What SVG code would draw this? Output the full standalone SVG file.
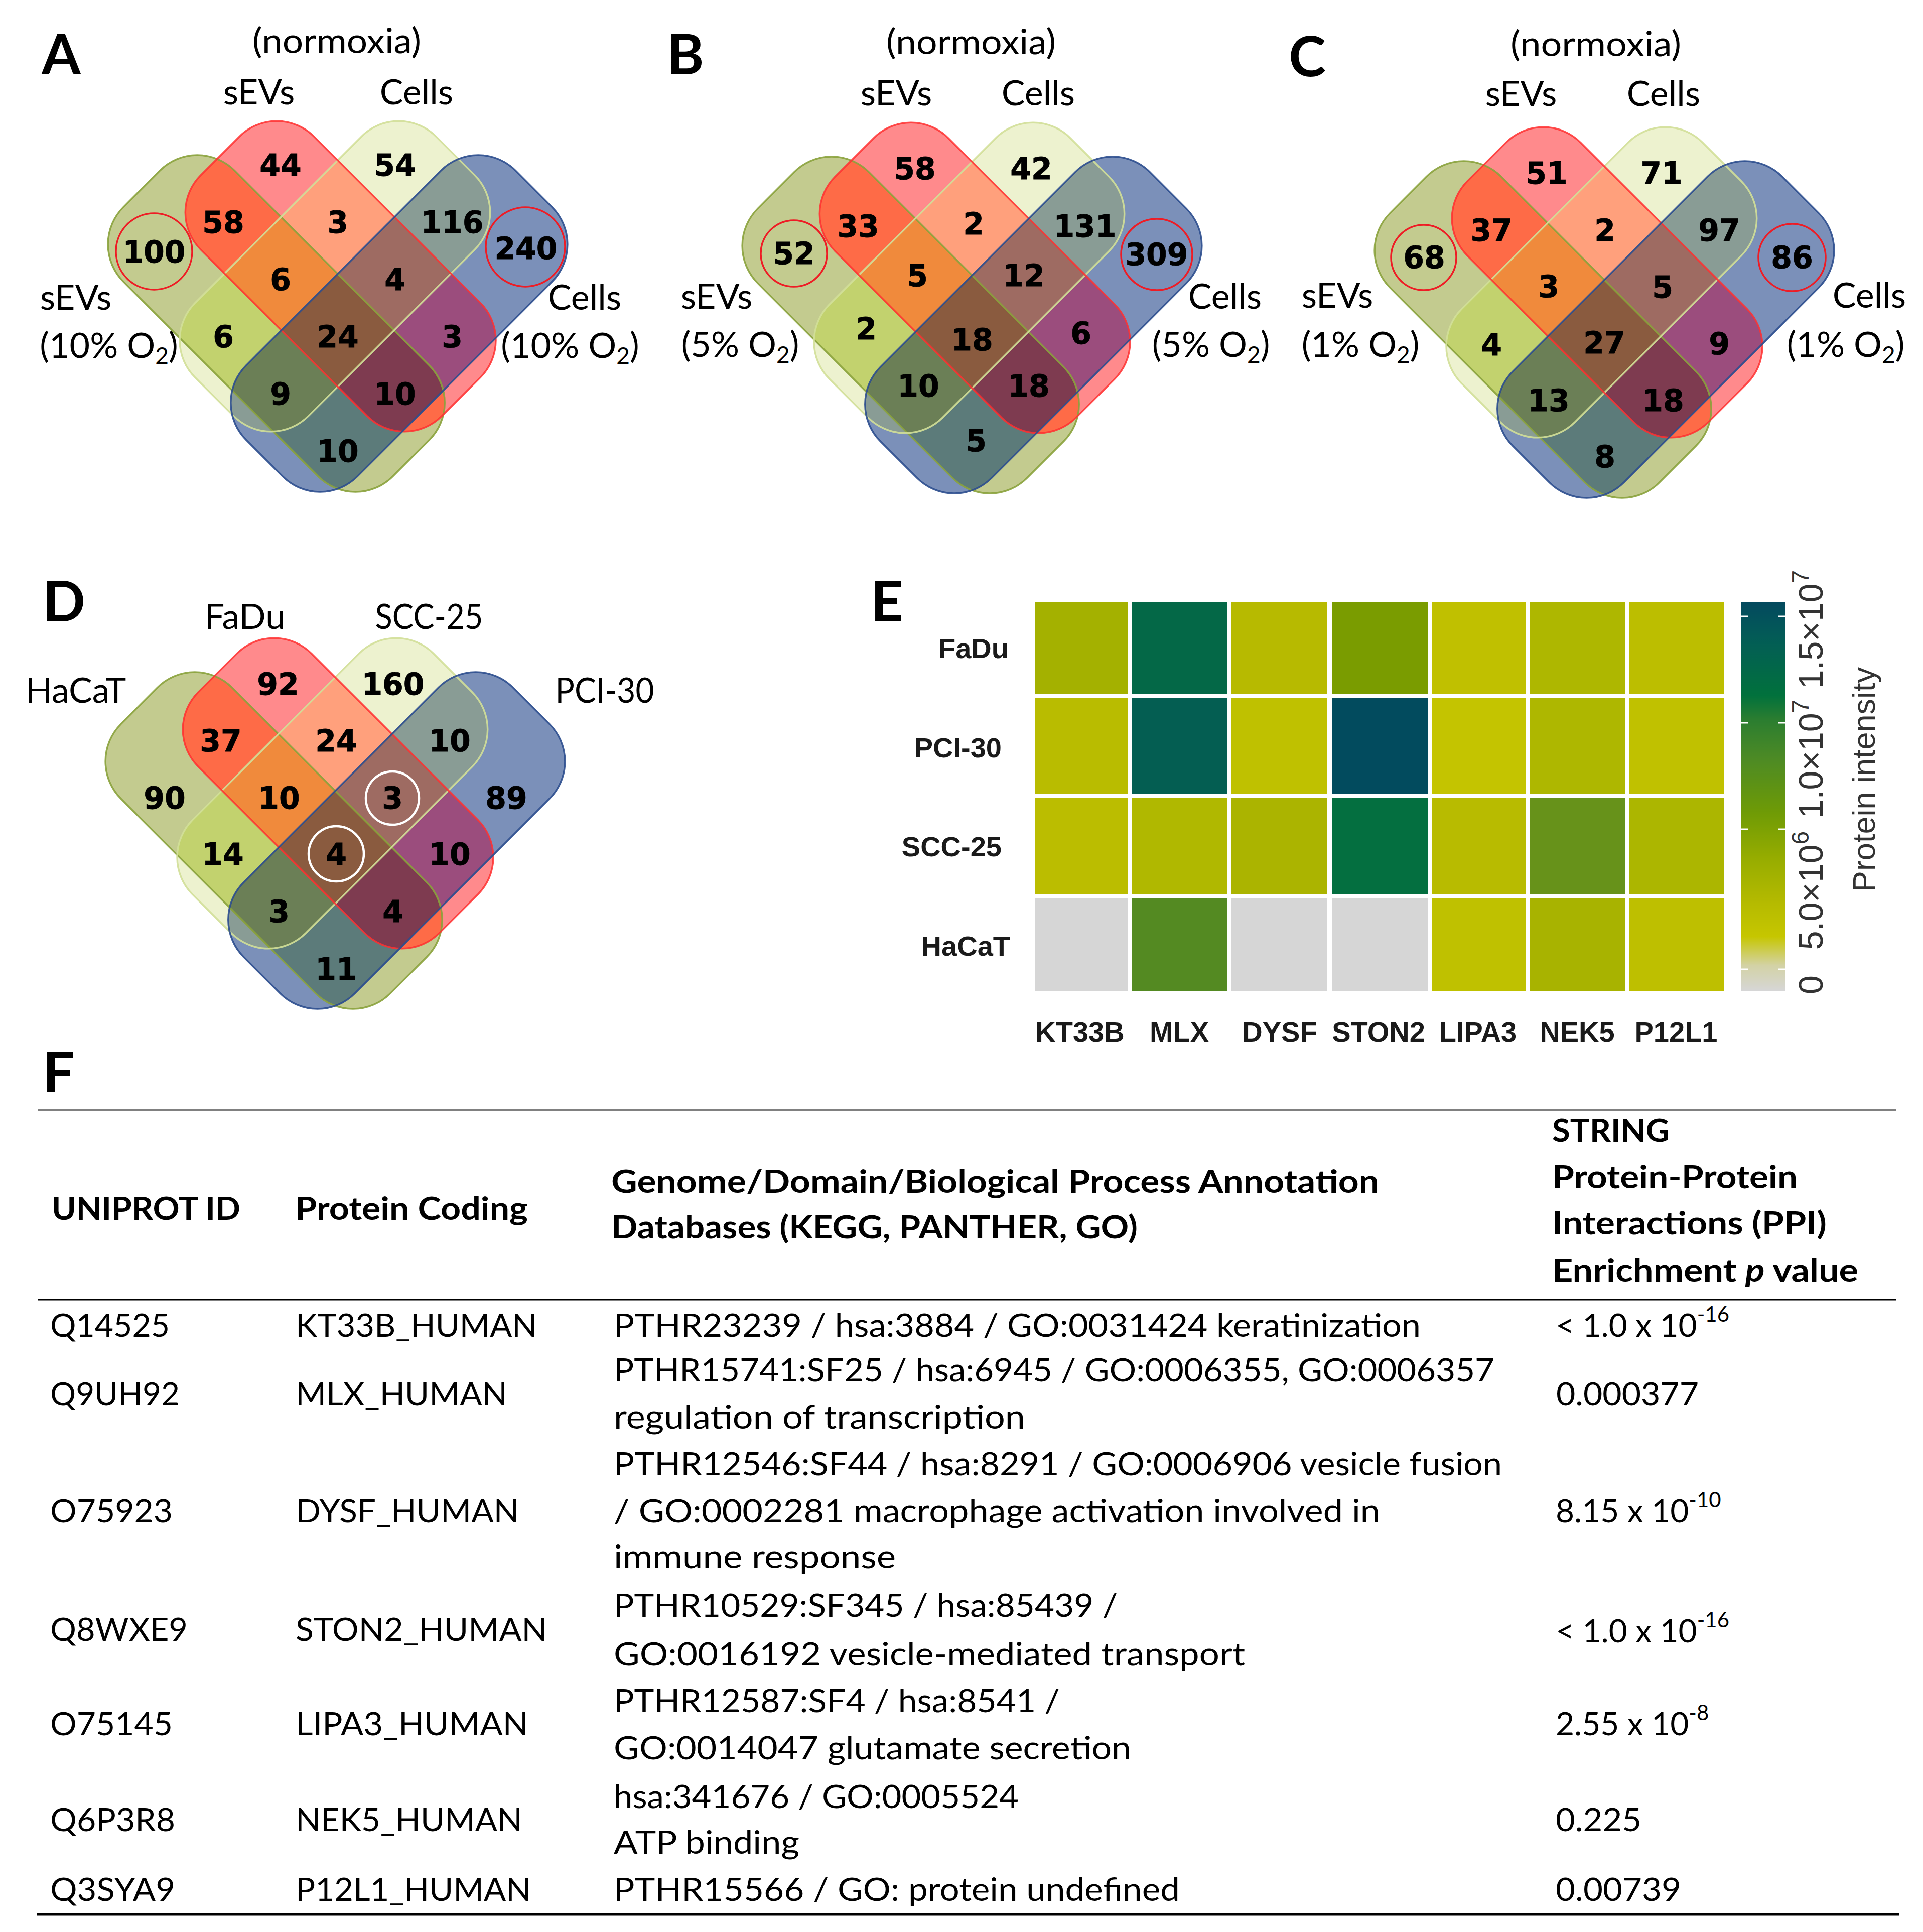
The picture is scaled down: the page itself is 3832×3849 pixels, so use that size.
<svg xmlns="http://www.w3.org/2000/svg" width="3832" height="3849" viewBox="0 0 3832 3849">
<defs>
<style>
.num{font-family:"DejaVu Sans",sans-serif;font-weight:bold;font-size:60px;text-anchor:middle;fill:#000;stroke:#000;stroke-width:0.8}
.lbl{font-family:Lato,"Liberation Sans",sans-serif;font-size:70px;fill:#000;text-anchor:middle}
.panel{font-family:Lato,"Liberation Sans",sans-serif;font-weight:bold;font-size:112px;fill:#000}
.ring{fill:none;stroke:#ee1c25;stroke-width:3.5}
.wring{fill:none;stroke:#fff;stroke-width:4.5}
.hml{font-family:"Liberation Sans",Arial,sans-serif;font-weight:bold;font-size:56px;fill:#1a1a1a}
.hmc{font-family:"Liberation Sans",Arial,sans-serif;font-weight:bold;font-size:56px;fill:#1a1a1a;text-anchor:middle}
.cb{font-family:"Liberation Sans",Arial,sans-serif;font-size:68px;fill:#333;text-anchor:middle}
.tick{stroke:#fff;stroke-width:3}
.tb{font-family:Lato,"Liberation Sans",sans-serif;font-size:64px;fill:#000}
.th{font-family:Lato,"Liberation Sans",sans-serif;font-size:64px;font-weight:bold;fill:#000}
.ol{fill:none;stroke-width:3.5}
</style>
<linearGradient id="cbg" x1="0" y1="0" x2="0" y2="1">
<stop offset="0" stop-color="#044a5f"/>
<stop offset="0.09" stop-color="#035c57"/>
<stop offset="0.24" stop-color="#01713c"/>
<stop offset="0.30" stop-color="#2a7d30"/>
<stop offset="0.40" stop-color="#4c8a25"/>
<stop offset="0.54" stop-color="#6f9b06"/>
<stop offset="0.66" stop-color="#97ad00"/>
<stop offset="0.77" stop-color="#b4ba00"/>
<stop offset="0.86" stop-color="#c6c600"/>
<stop offset="0.935" stop-color="#d3d2a5"/>
<stop offset="1" stop-color="#d6d6d6"/>
</linearGradient>
<rect id="sg" x="-484" y="-88" width="759" height="313" rx="105" transform="rotate(45)"/>
<rect id="sy" x="-248" y="-420" width="319" height="679" rx="105" transform="rotate(45)"/>
<rect id="sr" x="-420" y="-248" width="679" height="319" rx="105" transform="rotate(45)"/>
<rect id="sb" x="-88" y="-484" width="313" height="759" rx="105" transform="rotate(45)"/>
<clipPath id="cg"><rect x="-484" y="-88" width="759" height="313" rx="105" transform="rotate(45)"/></clipPath>
<clipPath id="cy"><rect x="-248" y="-420" width="319" height="679" rx="105" transform="rotate(45)"/></clipPath>
<clipPath id="cr"><rect x="-420" y="-248" width="679" height="319" rx="105" transform="rotate(45)"/></clipPath>
<g id="vennShapes">
<use href="#sg" fill="#c3cb8f"/>
<use href="#sy" fill="#edf2cf"/>
<use href="#sr" fill="#ff8a8c"/>
<use href="#sb" fill="#7b90b9"/>
<g clip-path="url(#cr)"><use href="#sg" fill="#fe6b47"/></g>
<g clip-path="url(#cr)"><use href="#sy" fill="#ffa07c"/></g>
<g clip-path="url(#cr)"><use href="#sb" fill="#9b4d7d"/></g>
<g clip-path="url(#cg)"><use href="#sy" fill="#c2d26e"/></g>
<g clip-path="url(#cg)"><use href="#sb" fill="#5c7b7a"/></g>
<g clip-path="url(#cy)"><use href="#sb" fill="#899c95"/></g>
<g clip-path="url(#cr)"><g clip-path="url(#cg)"><use href="#sy" fill="#f08a3c"/></g></g>
<g clip-path="url(#cr)"><g clip-path="url(#cg)"><use href="#sb" fill="#7e3b50"/></g></g>
<g clip-path="url(#cr)"><g clip-path="url(#cy)"><use href="#sb" fill="#9e6b62"/></g></g>
<g clip-path="url(#cg)"><g clip-path="url(#cy)"><use href="#sb" fill="#6b7f56"/></g></g>
<g clip-path="url(#cr)"><g clip-path="url(#cg)"><g clip-path="url(#cy)"><use href="#sb" fill="#8a5b3f"/></g></g></g>
<use href="#sg" class="ol" stroke="#8aa23c" stroke-opacity="0.9"/>
<use href="#sy" class="ol" stroke="#d2df98" stroke-opacity="0.9"/>
<use href="#sr" class="ol" stroke="#ff3030" stroke-opacity="0.85"/>
<use href="#sb" class="ol" stroke="#2c4e8e" stroke-opacity="0.9"/>
</g>
</defs>
<rect x="0" y="0" width="3832" height="3849" fill="#fff"/>
<g id="connectors"/>

<g id="panel-A">
<text class="panel" x="83" y="148">A</text>
<use href="#vennShapes" x="673" y="670"/>
<text class="lbl" x="671" y="106" textLength="336" lengthAdjust="spacingAndGlyphs">(normoxia)</text>
<text class="lbl" x="516" y="208">sEVs</text>
<text class="lbl" x="830" y="208">Cells</text>
<text class="lbl" x="151" y="617">sEVs</text>
<text class="lbl" x="217" y="713">(10% O<tspan font-size="46" dy="12">2</tspan><tspan dy="-12">)</tspan></text>
<text class="lbl" x="1165" y="617">Cells</text>
<text class="lbl" x="1136" y="713">(10% O<tspan font-size="46" dy="12">2</tspan><tspan dy="-12">)</tspan></text>
<circle class="ring" cx="307" cy="501" r="76"/>
<circle class="ring" cx="1047" cy="492" r="79"/>
<text class="num" x="559" y="350">44</text>
<text class="num" x="787" y="350">54</text>
<text class="num" x="445" y="464">58</text>
<text class="num" x="673" y="464">3</text>
<text class="num" x="901" y="464">116</text>
<text class="num" x="559" y="578">6</text>
<text class="num" x="787" y="578">4</text>
<text class="num" x="445" y="692">6</text>
<text class="num" x="673" y="692">24</text>
<text class="num" x="901" y="692">3</text>
<text class="num" x="559" y="806">9</text>
<text class="num" x="787" y="806">10</text>
<text class="num" x="673" y="920">10</text>
<text class="num" x="307" y="523">100</text>
<text class="num" x="1048" y="516">240</text>
</g>

<g id="panel-B">
<text class="panel" x="1329" y="148">B</text>
<use href="#vennShapes" x="1937" y="673"/>
<text class="lbl" x="1935" y="108" textLength="338" lengthAdjust="spacingAndGlyphs">(normoxia)</text>
<text class="lbl" x="1786" y="210">sEVs</text>
<text class="lbl" x="2069" y="210">Cells</text>
<text class="lbl" x="1428" y="615">sEVs</text>
<text class="lbl" x="1475" y="711">(5% O<tspan font-size="46" dy="12">2</tspan><tspan dy="-12">)</tspan></text>
<text class="lbl" x="2441" y="615">Cells</text>
<text class="lbl" x="2413" y="711">(5% O<tspan font-size="46" dy="12">2</tspan><tspan dy="-12">)</tspan></text>
<circle class="ring" cx="1582" cy="505" r="66"/>
<circle class="ring" cx="2305" cy="507" r="71"/>
<text class="num" x="1823" y="357">58</text>
<text class="num" x="2055" y="357">42</text>
<text class="num" x="1710" y="472">33</text>
<text class="num" x="1940" y="467">2</text>
<text class="num" x="2162" y="472">131</text>
<text class="num" x="1828" y="570">5</text>
<text class="num" x="2040" y="570">12</text>
<text class="num" x="1726" y="676">2</text>
<text class="num" x="1937" y="698">18</text>
<text class="num" x="2154" y="685">6</text>
<text class="num" x="1830" y="790">10</text>
<text class="num" x="2050" y="790">18</text>
<text class="num" x="1945" y="899">5</text>
<text class="num" x="1582" y="526">52</text>
<text class="num" x="2305" y="528">309</text>
</g>

<g id="panel-C">
<text class="panel" x="2568" y="152">C</text>
<use href="#vennShapes" x="3197" y="682"/>
<text class="lbl" x="3180" y="112" textLength="340" lengthAdjust="spacingAndGlyphs">(normoxia)</text>
<text class="lbl" x="3031" y="211">sEVs</text>
<text class="lbl" x="3315" y="211">Cells</text>
<text class="lbl" x="2665" y="613">sEVs</text>
<text class="lbl" x="2711" y="711">(1% O<tspan font-size="46" dy="12">2</tspan><tspan dy="-12">)</tspan></text>
<text class="lbl" x="3725" y="613">Cells</text>
<text class="lbl" x="3678" y="711">(1% O<tspan font-size="46" dy="12">2</tspan><tspan dy="-12">)</tspan></text>
<circle class="ring" cx="2837" cy="513" r="65"/>
<circle class="ring" cx="3571" cy="513" r="67"/>
<text class="num" x="3082" y="366">51</text>
<text class="num" x="3311" y="366">71</text>
<text class="num" x="2972" y="480">37</text>
<text class="num" x="3198" y="480">2</text>
<text class="num" x="3426" y="480">97</text>
<text class="num" x="3086" y="592">3</text>
<text class="num" x="3313" y="593">5</text>
<text class="num" x="2972" y="708">4</text>
<text class="num" x="3197" y="704">27</text>
<text class="num" x="3426" y="706">9</text>
<text class="num" x="3086" y="819">13</text>
<text class="num" x="3314" y="819">18</text>
<text class="num" x="3198" y="931">8</text>
<text class="num" x="2838" y="534">68</text>
<text class="num" x="3571" y="534">86</text>
</g>

<g id="panel-D">
<text class="panel" x="85" y="1238">D</text>
<use href="#vennShapes" x="668" y="1700"/>
<text class="lbl" x="488" y="1253">FaDu</text>
<text class="lbl" x="855" y="1253" textLength="215" lengthAdjust="spacingAndGlyphs">SCC-25</text>
<text class="lbl" x="151" y="1400">HaCaT</text>
<text class="lbl" x="1205" y="1400" textLength="197" lengthAdjust="spacingAndGlyphs">PCI-30</text>
<circle class="wring" cx="782" cy="1590" r="53"/>
<circle class="wring" cx="670" cy="1701" r="55"/>
<text class="num" x="554" y="1384">92</text>
<text class="num" x="783" y="1384">160</text>
<text class="num" x="440" y="1497">37</text>
<text class="num" x="670" y="1497">24</text>
<text class="num" x="896" y="1497">10</text>
<text class="num" x="328" y="1611">90</text>
<text class="num" x="556" y="1611">10</text>
<text class="num" x="782" y="1611">3</text>
<text class="num" x="1009" y="1611">89</text>
<text class="num" x="444" y="1723">14</text>
<text class="num" x="670" y="1723">4</text>
<text class="num" x="896" y="1723">10</text>
<text class="num" x="556" y="1837">3</text>
<text class="num" x="783" y="1837">4</text>
<text class="num" x="670" y="1952">11</text>
</g>

<g id="panel-E">
<text class="panel" x="1735" y="1238">E</text>
<g id="heatmap-cells">
<rect x="2063" y="1199" width="184" height="184" fill="#a4b100"/>
<rect x="2255" y="1199" width="191" height="184" fill="#046847"/>
<rect x="2454" y="1199" width="191" height="184" fill="#b7ba00"/>
<rect x="2654" y="1199" width="191" height="184" fill="#7a9c00"/>
<rect x="2853" y="1199" width="187" height="184" fill="#c0c000"/>
<rect x="3048" y="1199" width="191" height="184" fill="#aeb700"/>
<rect x="3247" y="1199" width="188" height="184" fill="#bcbe00"/>
<rect x="2063" y="1391" width="184" height="191" fill="#b9bc00"/>
<rect x="2255" y="1391" width="191" height="191" fill="#045e52"/>
<rect x="2454" y="1391" width="191" height="191" fill="#bfc100"/>
<rect x="2654" y="1391" width="191" height="191" fill="#024b5e"/>
<rect x="2853" y="1391" width="187" height="191" fill="#c4c400"/>
<rect x="3048" y="1391" width="191" height="191" fill="#aeb700"/>
<rect x="3247" y="1391" width="188" height="191" fill="#c0c100"/>
<rect x="2063" y="1590" width="184" height="191" fill="#bbbd00"/>
<rect x="2255" y="1590" width="191" height="191" fill="#b0b800"/>
<rect x="2454" y="1590" width="191" height="191" fill="#abb400"/>
<rect x="2654" y="1590" width="191" height="191" fill="#046f40"/>
<rect x="2853" y="1590" width="187" height="191" fill="#b8bb00"/>
<rect x="3048" y="1590" width="191" height="191" fill="#67921a"/>
<rect x="3247" y="1590" width="188" height="191" fill="#acb600"/>
<rect x="2063" y="1789" width="184" height="185" fill="#d6d6d6"/>
<rect x="2255" y="1789" width="191" height="185" fill="#548a22"/>
<rect x="2454" y="1789" width="191" height="185" fill="#d6d6d6"/>
<rect x="2654" y="1789" width="191" height="185" fill="#d6d6d6"/>
<rect x="2853" y="1789" width="187" height="185" fill="#bfc100"/>
<rect x="3048" y="1789" width="191" height="185" fill="#a8b300"/>
<rect x="3247" y="1789" width="188" height="185" fill="#bebf00"/>
</g>
<g id="heatmap-row-labels">
<text class="hml" x="2010" y="1311" text-anchor="end">FaDu</text>
<text class="hml" x="1996" y="1509" text-anchor="end">PCI-30</text>
<text class="hml" x="1996" y="1706" text-anchor="end">SCC-25</text>
<text class="hml" x="2013" y="1904" text-anchor="end">HaCaT</text>
</g>
<g id="heatmap-col-labels">
<text class="hmc" x="2152" y="2075">KT33B</text>
<text class="hmc" x="2350" y="2075">MLX</text>
<text class="hmc" x="2550" y="2075">DYSF</text>
<text class="hmc" x="2747" y="2075">STON2</text>
<text class="hmc" x="2945" y="2075">LIPA3</text>
<text class="hmc" x="3143" y="2075">NEK5</text>
<text class="hmc" x="3340" y="2075">P12L1</text>
</g>
<g id="colorbar">
<rect x="3470" y="1200" width="87" height="774" fill="url(#cbg)"/>
<line class="tick" x1="3470" y1="1228" x2="3484" y2="1228"/><line class="tick" x1="3543" y1="1228" x2="3557" y2="1228"/>
<line class="tick" x1="3470" y1="1440" x2="3484" y2="1440"/><line class="tick" x1="3543" y1="1440" x2="3557" y2="1440"/>
<line class="tick" x1="3470" y1="1652" x2="3484" y2="1652"/><line class="tick" x1="3543" y1="1652" x2="3557" y2="1652"/>
<line class="tick" x1="3470" y1="1931" x2="3484" y2="1931"/><line class="tick" x1="3543" y1="1931" x2="3557" y2="1931"/>
<text class="cb" x="3632" y="1962" transform="rotate(-90 3632 1962)">0</text>
<text class="cb" x="3632" y="1774" transform="rotate(-90 3632 1774)">5.0×10<tspan font-size="48" dy="-28">6</tspan></text>
<text class="cb" x="3632" y="1512" transform="rotate(-90 3632 1512)">1.0×10<tspan font-size="48" dy="-28">7</tspan></text>
<text class="cb" x="3632" y="1254" transform="rotate(-90 3632 1254)">1.5×10<tspan font-size="48" dy="-28">7</tspan></text>
<text x="3736" y="1553" transform="rotate(-90 3736 1553)" style="font-family:'Liberation Sans',Arial,sans-serif;font-size:63px;fill:#333;text-anchor:middle">Protein intensity</text>
</g>
</g>

<g id="panel-F">
<text class="panel" x="85" y="2176">F</text>
<line x1="76" y1="2211" x2="3779" y2="2211" stroke="#808080" stroke-width="4"/>
<line x1="76" y1="2589" x2="3779" y2="2589" stroke="#000" stroke-width="3"/>
<line x1="73" y1="3814" x2="3785" y2="3814" stroke="#000" stroke-width="5"/>
<g id="table-header">
<text class="th" x="103" y="2430" textLength="376" lengthAdjust="spacingAndGlyphs">UNIPROT ID</text>
<text class="th" x="588" y="2430" textLength="464" lengthAdjust="spacingAndGlyphs">Protein Coding</text>
<text class="th" x="1218" y="2376" textLength="1530" lengthAdjust="spacingAndGlyphs">Genome/Domain/Biological Process Annotation</text>
<text class="th" x="1218" y="2467" textLength="1049" lengthAdjust="spacingAndGlyphs">Databases (KEGG, PANTHER, GO)</text>
<text class="th" x="3093" y="2275" textLength="234" lengthAdjust="spacingAndGlyphs">STRING</text>
<text class="th" x="3093" y="2367" textLength="489" lengthAdjust="spacingAndGlyphs">Protein-Protein</text>
<text class="th" x="3093" y="2459" textLength="547" lengthAdjust="spacingAndGlyphs">Interactions (PPI)</text>
<text class="th" x="3093" y="2554" textLength="610" lengthAdjust="spacingAndGlyphs">Enrichment <tspan font-style="italic">p</tspan> value</text>
</g>
<g id="row-1">
<text class="tb" x="100" y="2663" textLength="238" lengthAdjust="spacingAndGlyphs">Q14525</text>
<text class="tb" x="589" y="2663" textLength="481" lengthAdjust="spacingAndGlyphs">KT33B_HUMAN</text>
<text class="tb" x="1223" y="2663" textLength="1608" lengthAdjust="spacingAndGlyphs">PTHR23239 / hsa:3884 / GO:0031424 keratinization</text>
<text class="tb" x="3100" y="2663">&lt; 1.0 x 10<tspan font-size="42" dy="-30">-16</tspan></text>
</g>
<g id="row-2">
<text class="tb" x="100" y="2800" textLength="258" lengthAdjust="spacingAndGlyphs">Q9UH92</text>
<text class="tb" x="589" y="2800" textLength="422" lengthAdjust="spacingAndGlyphs">MLX_HUMAN</text>
<text class="tb" x="1223" y="2752" textLength="1755" lengthAdjust="spacingAndGlyphs">PTHR15741:SF25 / hsa:6945 / GO:0006355, GO:0006357</text>
<text class="tb" x="1223" y="2846" textLength="820" lengthAdjust="spacingAndGlyphs">regulation of transcription</text>
<text class="tb" x="3101" y="2800" textLength="284" lengthAdjust="spacingAndGlyphs">0.000377</text>
</g>
<g id="row-3">
<text class="tb" x="100" y="3033" textLength="244" lengthAdjust="spacingAndGlyphs">O75923</text>
<text class="tb" x="589" y="3033" textLength="445" lengthAdjust="spacingAndGlyphs">DYSF_HUMAN</text>
<text class="tb" x="1223" y="2939" textLength="1770" lengthAdjust="spacingAndGlyphs">PTHR12546:SF44 / hsa:8291 / GO:0006906 vesicle fusion</text>
<text class="tb" x="1223" y="3033" textLength="1527" lengthAdjust="spacingAndGlyphs">/ GO:0002281 macrophage activation involved in</text>
<text class="tb" x="1223" y="3124" textLength="562" lengthAdjust="spacingAndGlyphs">immune response</text>
<text class="tb" x="3100" y="3033">8.15 x 10<tspan font-size="42" dy="-30">-10</tspan></text>
</g>
<g id="row-4">
<text class="tb" x="100" y="3269" textLength="274" lengthAdjust="spacingAndGlyphs">Q8WXE9</text>
<text class="tb" x="589" y="3269" textLength="501" lengthAdjust="spacingAndGlyphs">STON2_HUMAN</text>
<text class="tb" x="1223" y="3221" textLength="1004" lengthAdjust="spacingAndGlyphs">PTHR10529:SF345 / hsa:85439 /</text>
<text class="tb" x="1223" y="3318" textLength="1258" lengthAdjust="spacingAndGlyphs">GO:0016192 vesicle-mediated transport</text>
<text class="tb" x="3100" y="3272">&lt; 1.0 x 10<tspan font-size="42" dy="-30">-16</tspan></text>
</g>
<g id="row-5">
<text class="tb" x="100" y="3457" textLength="244" lengthAdjust="spacingAndGlyphs">O75145</text>
<text class="tb" x="589" y="3457" textLength="464" lengthAdjust="spacingAndGlyphs">LIPA3_HUMAN</text>
<text class="tb" x="1223" y="3411" textLength="889" lengthAdjust="spacingAndGlyphs">PTHR12587:SF4 / hsa:8541 /</text>
<text class="tb" x="1223" y="3505" textLength="1031" lengthAdjust="spacingAndGlyphs">GO:0014047 glutamate secretion</text>
<text class="tb" x="3100" y="3457">2.55 x 10<tspan font-size="42" dy="-30">-8</tspan></text>
</g>
<g id="row-6">
<text class="tb" x="100" y="3648" textLength="249" lengthAdjust="spacingAndGlyphs">Q6P3R8</text>
<text class="tb" x="589" y="3648" textLength="452" lengthAdjust="spacingAndGlyphs">NEK5_HUMAN</text>
<text class="tb" x="1223" y="3602" textLength="807" lengthAdjust="spacingAndGlyphs">hsa:341676 / GO:0005524</text>
<text class="tb" x="1223" y="3693" textLength="370" lengthAdjust="spacingAndGlyphs">ATP binding</text>
<text class="tb" x="3100" y="3648" textLength="171" lengthAdjust="spacingAndGlyphs">0.225</text>
</g>
<g id="row-7">
<text class="tb" x="100" y="3787" textLength="249" lengthAdjust="spacingAndGlyphs">Q3SYA9</text>
<text class="tb" x="589" y="3787" textLength="469" lengthAdjust="spacingAndGlyphs">P12L1_HUMAN</text>
<text class="tb" x="1223" y="3787" textLength="1128" lengthAdjust="spacingAndGlyphs">PTHR15566 / GO: protein undefined</text>
<text class="tb" x="3100" y="3787" textLength="250" lengthAdjust="spacingAndGlyphs">0.00739</text>
</g>
</g>
</svg>
